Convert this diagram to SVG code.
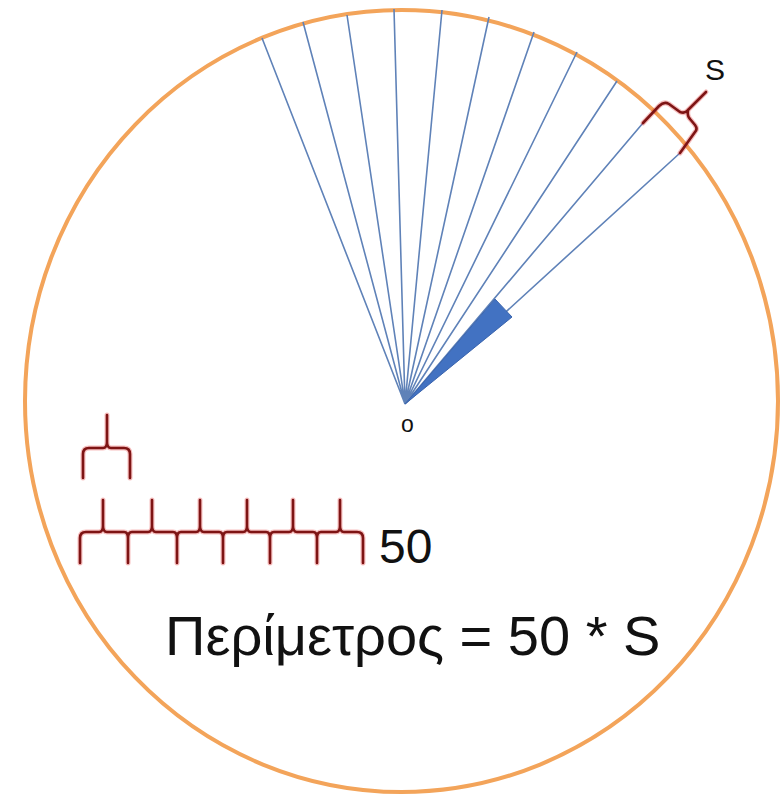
<svg xmlns="http://www.w3.org/2000/svg" width="782" height="799" viewBox="0 0 782 799">
<style>
.ray{stroke:#5f82b8;stroke-width:1.6;fill:none}
.br{fill:none;stroke:#7e1414;stroke-width:2.6;stroke-linecap:round;stroke-linejoin:round}
.brg{fill:none;stroke:#e02828;stroke-width:5;stroke-opacity:0.3;stroke-linecap:round;stroke-linejoin:round}
.t{font-family:"Liberation Sans",Arial,sans-serif;fill:#111}
</style>
<rect width="782" height="799" fill="#fff"/>
<g id="circle">
<ellipse cx="401.5" cy="401" rx="376.5" ry="391" fill="none" stroke="#f3a45a" stroke-width="4"/>
</g>
<g id="connectors">
<path class="ray" d="M405,404 L262,38 M405,404 L303,22 M405,404 L347,15 M405,404 L394,9 M405,404 L442,10 M405,404 L489,17 M405,404 L534,32 M405,404 L577,52 M405,404 L617,81 M405,404 L643,123 M405,404 L680,153"/>
</g>
<g id="wedge">
<polygon points="405,404 495,299 512,317" fill="#4272c2" stroke="#3a64ad" stroke-width="1"/>
</g>
<g id="brace-s">
<path class="brg" d="M643,123 L659,106 Q664,101 669,104 L680,112 Q685,114 688,110 L706,92 M688,110 Q687,116 690,119 L695,125 Q698,129 695,132 L680,153"/>
<path class="br" d="M643,123 L659,106 Q664,101 669,104 L680,112 Q685,114 688,110 L706,92 M688,110 Q687,116 690,119 L695,125 Q698,129 695,132 L680,153"/>
</g>
<g id="brace-single">
<path class="brg" d="M83,478 V454 Q83,448 89,448 H103 Q107,448 107,442 V415 M107,442 Q107,448 111,448 H124 Q130,448 130,454 V478"/>
<path class="br" d="M83,478 V454 Q83,448 89,448 H103 Q107,448 107,442 V415 M107,442 Q107,448 111,448 H124 Q130,448 130,454 V478"/>
</g>
<g id="brace-row">
<path class="brg" d="M80,563 V538 Q80,532 86,532 H99 Q103,532 103,526 V500 M103,526 Q103,532 107,532 H124 Q128,532 128,538 V563 M128,538 Q128,532 132,532 H148 Q152,532 152,526 V500 M152,526 Q152,532 156,532 H173 Q177,532 177,538 V563 M177,538 Q177,532 181,532 H196 Q200,532 200,526 V500 M200,526 Q200,532 204,532 H219 Q223,532 223,538 V563 M223,538 Q223,532 227,532 H243 Q247,532 247,526 V500 M247,526 Q247,532 251,532 H266 Q270,532 270,538 V563 M270,538 Q270,532 274,532 H289 Q293,532 293,526 V500 M293,526 Q293,532 297,532 H313 Q317,532 317,538 V563 M317,538 Q317,532 321,532 H336 Q340,532 340,526 V500 M340,526 Q340,532 344,532 H357 Q363,532 363,538 V563"/>
<path class="br" d="M80,563 V538 Q80,532 86,532 H99 Q103,532 103,526 V500 M103,526 Q103,532 107,532 H124 Q128,532 128,538 V563 M128,538 Q128,532 132,532 H148 Q152,532 152,526 V500 M152,526 Q152,532 156,532 H173 Q177,532 177,538 V563 M177,538 Q177,532 181,532 H196 Q200,532 200,526 V500 M200,526 Q200,532 204,532 H219 Q223,532 223,538 V563 M223,538 Q223,532 227,532 H243 Q247,532 247,526 V500 M247,526 Q247,532 251,532 H266 Q270,532 270,538 V563 M270,538 Q270,532 274,532 H289 Q293,532 293,526 V500 M293,526 Q293,532 297,532 H313 Q317,532 317,538 V563 M317,538 Q317,532 321,532 H336 Q340,532 340,526 V500 M340,526 Q340,532 344,532 H357 Q363,532 363,538 V563"/>
</g>
<g id="labels">
<text class="t" x="705" y="80" font-size="30">S</text>
<text class="t" x="401" y="432" font-size="23" fill="#444">o</text>
<text class="t" x="379" y="563" font-size="48">50</text>
<text class="t" x="165" y="655" font-size="56">Περίμετρος = 50 * S</text>
</g>
</svg>
